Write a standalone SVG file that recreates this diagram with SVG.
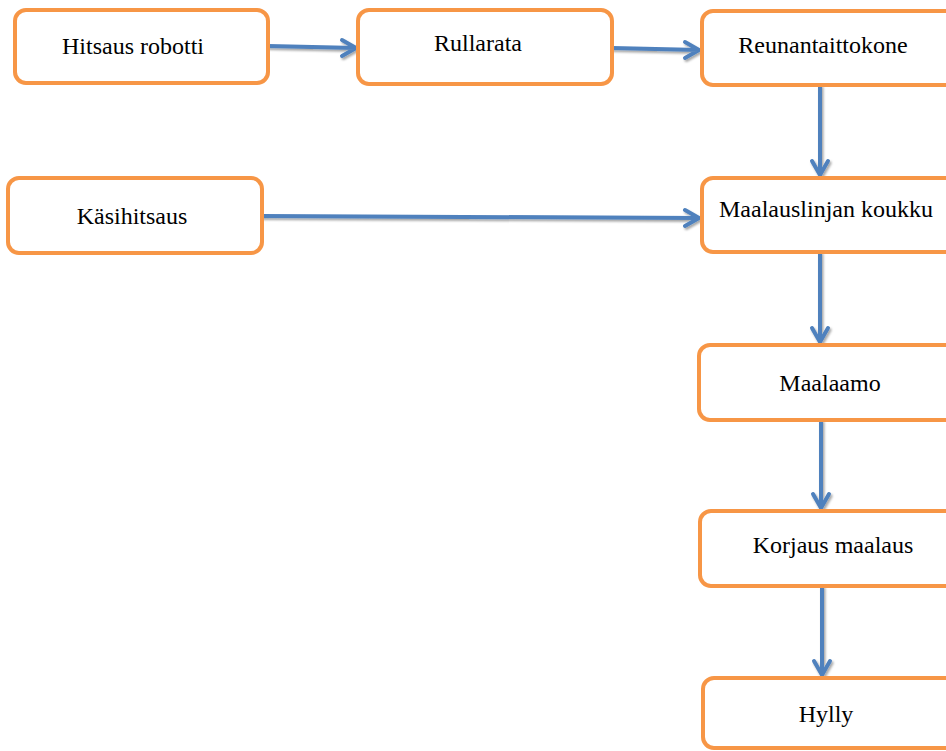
<svg xmlns="http://www.w3.org/2000/svg" width="946" height="751" viewBox="0 0 946 751">
<defs>
<style>
.box{fill:#fff;stroke:#F79646;stroke-width:4}
.lbl{font-family:"Liberation Serif","Times New Roman",serif;font-size:24px;fill:#000}
.con{fill:none;stroke:#4F81BD;stroke-width:4;stroke-linecap:round;stroke-linejoin:round}
</style>
<filter id="sh" x="-20%" y="-20%" width="140%" height="140%">
<feDropShadow dx="1.5" dy="2" stdDeviation="1.2" flood-color="#000" flood-opacity="0.35"/>
</filter>
</defs>
<rect width="946" height="751" fill="#fff"/>
<g id="connectors" filter="url(#sh)">
<path class="con" d="M268,46 L356,48 M342,40 L356,48 L342,56"/>
<path class="con" d="M612,48 L699,50 M685,42 L699,50 L685,58"/>
<path class="con" d="M820,86 L820,175 M812,161 L820,175 L828,161"/>
<path class="con" d="M262,216 L699,218 M685,210 L699,218 L685,226"/>
<path class="con" d="M820,253 L820,342 M812,328 L820,342 L828,328"/>
<path class="con" d="M821,421 L821,508 M813,494 L821,508 L829,494"/>
<path class="con" d="M822,587 L822,675 M814,661 L822,675 L830,661"/>
</g>
<g id="hitsaus-robotti"><rect class="box" x="15" y="10" width="253" height="73" rx="11"/><text class="lbl" x="133" y="54" text-anchor="middle">Hitsaus robotti</text></g>
<g id="rullarata"><rect class="box" x="358" y="10" width="254" height="74" rx="11"/><text class="lbl" x="478" y="51" text-anchor="middle">Rullarata</text></g>
<g id="reunantaittokone"><rect class="box" x="702" y="11" width="260" height="74" rx="11"/><text class="lbl" x="823" y="53" text-anchor="middle">Reunantaittokone</text></g>
<g id="kasihitsaus"><rect class="box" x="8" y="178" width="254" height="75" rx="11"/><text class="lbl" x="132" y="224" text-anchor="middle">Käsihitsaus</text></g>
<g id="maalauslinjan-koukku"><rect class="box" x="702" y="178" width="260" height="74" rx="11"/><text class="lbl" x="826" y="217" text-anchor="middle">Maalauslinjan koukku</text></g>
<g id="maalaamo"><rect class="box" x="699" y="345" width="263" height="75" rx="11"/><text class="lbl" x="830" y="391" text-anchor="middle">Maalaamo</text></g>
<g id="korjaus-maalaus"><rect class="box" x="700" y="511" width="262" height="75" rx="11"/><text class="lbl" x="833" y="553" text-anchor="middle">Korjaus maalaus</text></g>
<g id="hylly"><rect class="box" x="703" y="678" width="259" height="70" rx="11"/><text class="lbl" x="826" y="722" text-anchor="middle">Hylly</text></g>
</svg>
